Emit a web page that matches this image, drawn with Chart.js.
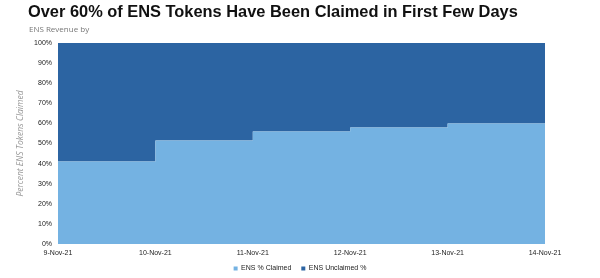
<!DOCTYPE html>
<html>
<head>
<meta charset="utf-8">
<script src="https://cdn.jsdelivr.net/npm/chart.js@4"></script>
<style>
  body { margin: 0; background: #fff; }
  #wrap { position: relative; width: 600px; height: 278px; }
  #title { position: absolute; left: 28px; top: 2px; font: bold 16.4px "Liberation Sans", Arial, sans-serif; color: #111; white-space: nowrap; }
  #sub { position: absolute; left: 29px; top: 23px; font: 8px "Open Sans", sans-serif; color: #777; }
</style>
</head>
<body>
<div id="wrap">
  <canvas id="ensChart" width="600" height="278"></canvas>
  <div id="title">Over 60% of ENS Tokens Have Been Claimed in First Few Days</div>
  <div id="sub">ENS Revenue by</div>
</div>
<script>
const dates = ["9-Nov-21", "10-Nov-21", "11-Nov-21", "12-Nov-21", "13-Nov-21", "14-Nov-21"];
const claimedPct = [41, 51.5, 56, 58, 60, 60];
const unclaimedPct = [59, 48.5, 44, 42, 40, 40];

const tickFont = { family: "'Liberation Sans', Arial, sans-serif", size: 7 };

new Chart("ensChart", {
  type: "line",
  data: {
    labels: dates,
    datasets: [
      {
        label: "ENS % Claimed",
        data: claimedPct,
        stepped: true,
        backgroundColor: "#74b2e2",
        borderColor: "#74b2e2",
        borderWidth: 0,
        pointRadius: 0,
        fill: "origin"
      },
      {
        label: "ENS Unclaimed %",
        data: unclaimedPct,
        stepped: true,
        backgroundColor: "#2c64a2",
        borderColor: "#2c64a2",
        borderWidth: 0,
        pointRadius: 0,
        fill: "-1"
      }
    ]
  },
  options: {
    responsive: false,
    animation: false,
    layout: { padding: { top: 43, right: 0, bottom: -4, left: 0 } },
    plugins: {
      legend: {
        position: "bottom",
        labels: {
          boxWidth: 4,
          boxHeight: 4,
          padding: 10,
          color: "#222",
          font: tickFont
        }
      },
      tooltip: { enabled: false }
    },
    scales: {
      y: {
        stacked: true,
        min: 0,
        max: 100,
        afterFit: (scale) => { scale.width = 58; },
        ticks: {
          stepSize: 10,
          padding: 6,
          color: "#222",
          font: tickFont,
          callback: (v) => v + "%"
        },
        grid: { display: false, drawTicks: false },
        border: { display: false },
        title: {
          display: true,
          text: "Percent ENS Tokens Claimed",
          color: "#999",
          font: { family: "'Open Sans', sans-serif", size: 8.5, style: "italic" },
          padding: { top: 15, bottom: 0 }
        }
      },
      // blank right-hand axis that only reserves the white margin
      yRight: {
        position: "right",
        afterFit: (scale) => { scale.width = 55; },
        ticks: { display: false },
        grid: { display: false, drawTicks: false },
        border: { display: false }
      },
      x: {
        afterFit: (scale) => { scale.height = 11; },
        ticks: {
          color: "#222",
          font: tickFont,
          padding: 5,
          maxRotation: 0,
          autoSkip: false
        },
        grid: { display: false, drawTicks: false },
        border: { display: false }
      }
    }
  }
});
</script>
</body>
</html>
